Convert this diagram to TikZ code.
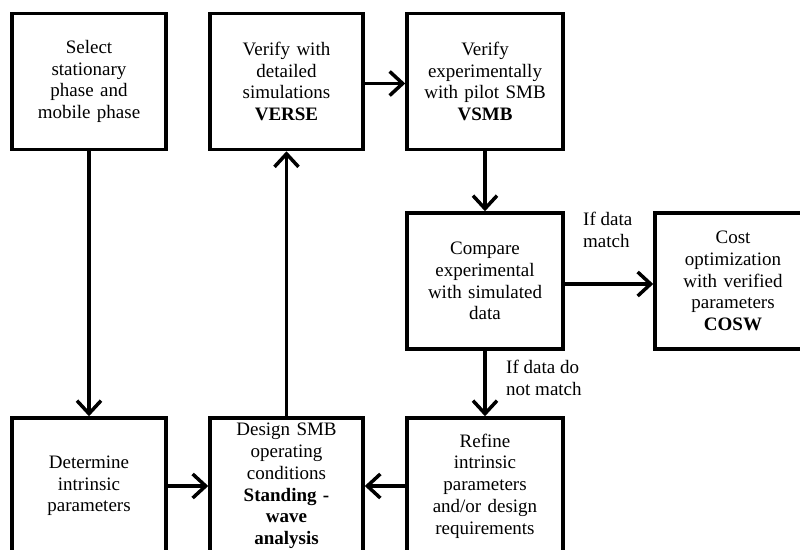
\documentclass[tikz,border=0pt]{standalone}
\usepackage{fontspec}
\setmainfont{Liberation Serif}
\usetikzlibrary{arrows.meta}
\begin{document}
\begin{tikzpicture}[x=1pt,y=-1pt,
  box/.style={draw, line width=3.5pt, minimum height=136pt, inner sep=2pt,
    align=center, font=\fontsize{19}{21.7}\selectfont},
  arr/.style={line width=3.5pt, -{Straight Barb[length=13pt,width=24pt,line width=3.5pt]}},
  lbl/.style={align=left, anchor=north west, inner sep=0pt, font=\fontsize{19}{21.7}\selectfont}]
\clip (0,0) rectangle (800,549);
\useasboundingbox (0,0) rectangle (800,549);
\node[box, minimum width=154pt, text width=150pt] (b1) at (89,81.5) {Select\\stationary\\phase and\\mobile phase};
\node[box, minimum width=153pt, text width=149pt] (b2) at (286.5,81.5) {Verify with\\detailed\\simulations\\\textbf{VERSE}};
\node[box, minimum width=156pt, text width=152pt] (b3) at (485,81.5) {Verify\\experimentally\\with pilot SMB\\\textbf{VSMB}};
\node[box, minimum width=156pt, text width=152pt] (b4) at (485,281) {Compare\\experimental\\with simulated\\data};
\node[box, minimum width=156pt, text width=152pt] (b5) at (733,281) {Cost\\optimization\\with verified\\parameters\\\textbf{COSW}};
\node[box, minimum width=154pt, text width=150pt] (b6) at (89,486) {Determine\\intrinsic\\parameters};
\node[box, minimum width=153pt, text width=149pt] (b7) at (286.5,486) {Design SMB\\operating\\conditions\\\textbf{Standing -}\\\textbf{wave}\\\textbf{analysis}};
\node[box, minimum width=156pt, text width=152pt] (b8) at (485,486) {Refine\\intrinsic\\parameters\\and/or design\\requirements};
\draw[arr] (b1) -- (b6);
\draw[arr] (b7) -- (b2);
\draw[arr] ([yshift=-2pt]b2.east) -- ([yshift=-2pt]b3.west);
\draw[arr] (b3) -- (b4);
\draw[arr] ([yshift=-3pt]b4.east) -- ([yshift=-3pt]b5.west);
\draw[arr] (b4) -- (b8);
\draw[arr] (b6) -- (b7);
\draw[arr] (b8) -- (b7);
\node[lbl] (l1) at (583,212) {If data\\match};
\node[lbl] (l2) at (506,360) {If data do\\not match};
\end{tikzpicture}
\end{document}
